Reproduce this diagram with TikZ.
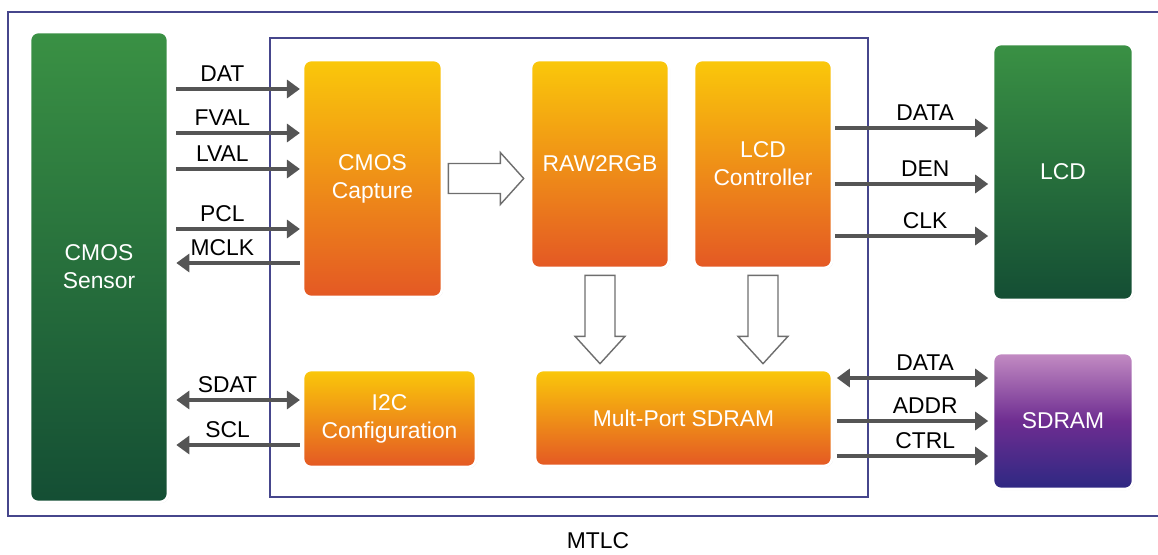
\documentclass[tikz,border=0pt]{standalone}
\usepackage{fontspec}
\setmainfont{Liberation Sans}
\usetikzlibrary{arrows.meta,calc,shadows}
\definecolor{framec}{RGB}{70,70,140}
\definecolor{sigc}{RGB}{85,85,85}
\definecolor{hollc}{RGB}{110,110,110}
\definecolor{orgtop}{RGB}{250,200,10}
\definecolor{orgbot}{RGB}{228,88,36}
\definecolor{grntop}{RGB}{58,145,68}
\definecolor{grnbot}{RGB}{20,78,52}
\definecolor{purtop}{RGB}{195,140,195}
\definecolor{purmid}{RGB}{110,45,145}
\definecolor{purbot}{RGB}{45,40,130}
\begin{document}
\begin{tikzpicture}[x=0.02cm,y=-0.02cm,font=\fontsize{13}{16}\selectfont,
    >={Triangle[length=0.26cm,width=0.36cm]},
    blk/.style={rounded corners=0.16cm,draw=white,line width=1.5pt,text=white,align=center,
      drop shadow={shadow xshift=0.6pt,shadow yshift=-0.6pt,opacity=0.18}},
    fpga/.style={blk,top color=orgtop,bottom color=orgbot},
    dev/.style={blk,top color=grntop,bottom color=grnbot},
    mem/.style={blk,top color=purtop,bottom color=purbot,middle color=purmid},
    sig/.style={draw=sigc,line width=2pt},
    hollow/.style={draw=hollc,fill=white,line width=0.8pt}]
    \useasboundingbox (0,0) rectangle (1158,554);
    \draw[framec,line width=1.2pt] (1158,12) -- (8,12) -- (8,516) -- (1158,516);
    \draw[framec,line width=1pt] (270,38) rectangle (868,497);
    \node (mtlc) at (598,541) {MTLC};

    \node[dev,minimum width=2.76cm,minimum height=9.4cm] (sensor) at (99,267) {CMOS\\Sensor};
    \node[fpga,minimum width=2.78cm,minimum height=4.74cm] (capture) at (372.5,178.5) {CMOS\\Capture};
    \node[fpga,minimum width=2.76cm,minimum height=4.16cm] (raw) at (600,164) {RAW2RGB};
    \node[fpga,minimum width=2.76cm,minimum height=4.16cm] (lcdc) at (763,164) {LCD\\Controller};
    \node[dev,minimum width=2.8cm,minimum height=5.12cm] (lcd) at (1063,172) {LCD};
    \node[fpga,minimum width=3.46cm,minimum height=1.94cm] (i2c) at (389.5,418.5) {I2C\\Configuration};
    \node[fpga,minimum width=5.94cm,minimum height=1.92cm] (mport) at (683.5,418) {Mult-Port SDRAM};
    \node[mem,minimum width=2.8cm,minimum height=2.72cm] (sdram) at (1063,421) {SDRAM};

    \foreach \y/\t/\d in {89/DAT/->,133/FVAL/->,169/LVAL/->,229/PCL/->,263/MCLK/<-}
        \draw[sig,\d,shorten <=4pt,shorten >=1pt] (sensor.east |- 0,\y) -- (capture.west |- 0,\y) node[pos=0.4,above] {\t};
    \foreach \y/\t/\d in {400/SDAT/<->,445/SCL/<-}
        \draw[sig,\d,shorten <=4pt,shorten >=1pt] (sensor.east |- 0,\y) -- (i2c.west |- 0,\y) node[pos=0.44,above] {\t};
    \foreach \y/\t in {128/DATA,184/DEN,236/CLK}
        \draw[sig,->,shorten <=1pt,shorten >=2pt] (lcdc.east |- 0,\y) -- (lcd.west |- 0,\y) node[pos=0.58,above] {\t};
    \foreach \y/\t/\d in {378/DATA/<->,421/ADDR/->,456/CTRL/->}
        \draw[sig,\d,shorten <=2pt,shorten >=2pt] (mport.east |- 0,\y) -- (sdram.west |- 0,\y) node[pos=0.58,above] {\t};

    \draw[hollow] ($(capture.east)+(5,-15)$) -- ++(52,0) -- ++(0,-11)
        -- ($(raw.west |- capture.east)+(-6,0)$) -- ($(capture.east)+(57,26)$) -- ++(0,-11)
        -- ($(capture.east)+(5,15)$) -- cycle;
    \foreach \b in {raw,lcdc}
        \draw[hollow] ($(\b.south)+(-15,6)$) -- ++(0,61) -- ++(-10,0)
            -- ($(\b.south |- mport.north)+(0,-5)$) -- ($(\b.south)+(25,67)$) -- ++(-10,0)
            -- ++(0,-61) -- cycle;
\end{tikzpicture}
\end{document}
